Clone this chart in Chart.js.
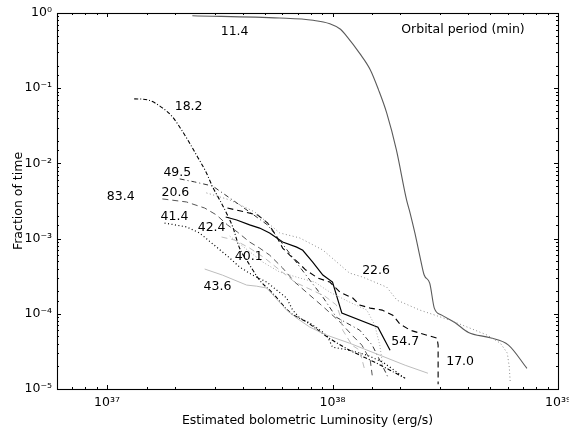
<!DOCTYPE html>
<html><head><meta charset="utf-8">
<script src="https://cdn.jsdelivr.net/npm/chart.js@4.4.0/dist/chart.umd.min.js"></script>
<style>html,body{margin:0;padding:0;background:#fff;}</style>
</head><body>
<canvas id="c" width="569" height="431" style="width:569px;height:431px;display:block"></canvas>
<script>
// ---- data (luminosity in erg/s, fraction of time) ----
const lum_11_4 = [2.39e37,5.83e37,8.2e37,9.73e37,1.085e38,1.15e38,1.32e38,1.47e38,1.60e38,1.74e38,1.92e38,2.13e38,2.21e38,2.32e38,2.46e38,2.55e38,2.70e38,2.83e38,3.05e38,3.50e38,4.01e38,5.0e38,6.03e38,7.28e38];
const frac_11_4 = [0.92,0.857,0.80,0.72,0.608,0.50,0.29,0.176,0.095,0.0466,0.0151,3.27e-3,2.17e-3,1.18e-3,5.19e-4,3.28e-4,2.54e-4,1.18e-4,9.6e-5,7.6e-5,5.65e-5,4.8e-5,3.83e-5,1.88e-5];

const lum_18_2 = [1.32e37,1.51e37,1.76e37,1.95e37,2.14e37,2.32e37,2.52e37,2.76e37,2.94e37,3.16e37,3.42e37,3.61e37,3.87e37,4.16e37,4.75e37,5.43e37,6.46e37,7.69e37,9.53e37,1.19e38,1.54e38,1.80e38,2.10e38];
const frac_18_2 = [0.0722,0.0701,0.0548,0.0416,0.0279,0.0188,0.0122,7.47e-3,4.86e-3,3.27e-3,2.06e-3,1.43e-3,7.48e-4,5.19e-4,2.81e-4,1.88e-4,1.05e-4,7.74e-5,4.89e-5,3.28e-5,2.27e-5,1.78e-5,1.39e-5];

const lum_49_5 = [2.10e37,2.44e37,2.94e37,3.50e37,4.29e37,5.15e37,5.83e37,7.16e37,9.06e37,1.04e38,1.32e38,1.50e38,1.62e38,1.76e38];
const frac_49_5 = [6.22e-3,5.68e-3,5.0e-3,3.47e-3,2.26e-3,1.52e-3,9.57e-4,4.19e-4,1.67e-4,9.0e-5,6.06e-5,3.83e-5,2.42e-5,1.44e-5];

const lum_22_6 = [2.76e37,3.50e37,4.52e37,5.83e37,7.16e37,9.06e37,1.19e38,1.36e38,1.74e38,1.93e38,2.44e38,3.32e38,4.07e38,4.85e38,5.55e38,5.96e38,6.08e38,6.14e38];
const frac_22_6 = [4.05e-3,3.27e-3,2.26e-3,1.19e-3,1.02e-3,7.05e-4,3.48e-4,3.08e-4,2.26e-4,1.52e-4,1.12e-4,8.22e-5,6.45e-5,5.21e-5,4.07e-5,3.0e-5,1.95e-5,1.23e-5];

const lum_20_6 = [1.76e37,2.25e37,2.71e37,3.06e37,3.42e37,3.79e37,4.29e37,4.75e37,5.26e37,6.01e37,6.80e37,7.93e37,9.24e37,1.08e38,1.22e38,1.35e38,1.47e38,1.50e38];
const frac_20_6 = [3.37e-3,3.07e-3,2.55e-3,2.06e-3,1.52e-3,1.22e-3,9.0e-4,7.48e-4,6.04e-4,4.06e-4,2.64e-4,1.77e-4,1.19e-4,7.76e-5,5.21e-5,3.83e-5,2.42e-5,1.52e-5];

const lum_41_4 = [1.80e37,2.25e37,2.57e37,3.06e37,3.50e37,3.87e37,4.42e37,5.11e37,5.65e37,6.26e37,6.66e37,7.16e37,7.93e37,9.06e37,9.53e37,1.00e38,1.19e38,1.42e38,1.67e38,1.93e38,2.05e38];
const frac_41_4 = [1.61e-3,1.43e-3,1.19e-3,7.72e-4,5.52e-4,4.19e-4,3.27e-4,2.64e-4,2.07e-4,1.62e-4,1.12e-4,8.77e-5,7.52e-5,5.70e-5,4.89e-5,3.60e-5,3.28e-5,2.82e-5,2.28e-5,1.68e-5,1.44e-5];

const lum_43_6 = [2.71e37,3.25e37,4.16e37,4.61e37,5.11e37,5.71e37,6.26e37,6.94e37,7.93e37,9.43e37,1.19e38,1.62e38,2.10e38,2.65e38];
const frac_43_6 = [3.94e-4,3.27e-4,2.41e-4,2.33e-4,2.20e-4,1.52e-4,1.12e-4,8.77e-5,6.65e-5,5.2e-5,4.07e-5,2.82e-5,2.07e-5,1.62e-5];

const lum_42_4 = [3.22e37,3.68e37,4.29e37,5.0e37,5.83e37,6.80e37,8.09e37,9.24e37,1.04e38,1.09e38,1.11e38,1.22e38,1.32e38,1.39e38];
const frac_42_4 = [1.05e-3,9.57e-4,7.48e-4,5.52e-4,3.82e-4,2.64e-4,2.07e-4,1.72e-4,1.31e-4,8.77e-5,6.06e-5,3.83e-5,3.28e-5,1.78e-5];

const lum_40_1 = [3.50e37,4.20e37,4.90e37,5.83e37,7.16e37,8.35e37,9.73e37,1.19e38,1.42e38,1.54e38,1.62e38,1.67e38];
const frac_40_1 = [1.08e-3,7.05e-4,4.88e-4,3.59e-4,2.99e-4,2.64e-4,1.94e-4,1.43e-4,1.12e-4,7.06e-5,3.83e-5,2.07e-5];

const lum_17_0 = [3.42e37,4.08e37,4.66e37,5.16e37,5.60e37,6.01e37,6.46e37,7.01e37,7.61e37,8.61e37,9.73e37,1.08e38,1.23e38,1.32e38,1.47e38,1.66e38,1.85e38,1.99e38,2.21e38,2.44e38,2.91e38,2.94e38,2.94e38];
const frac_17_0 = [2.55e-3,2.26e-3,2.06e-3,1.61e-3,1.12e-3,7.48e-4,6.04e-4,4.88e-4,3.82e-4,2.99e-4,2.64e-4,1.94e-4,1.62e-4,1.31e-4,1.19e-4,1.12e-4,9.6e-5,7.3e-5,6.06e-5,5.53e-5,4.74e-5,3.83e-5,1.16e-5];

const lum_54_7 = [3.36e37,3.76e37,4.29e37,4.75e37,5.26e37,6.01e37,6.94e37,7.38e37,8.17e37,9.06e37,1.0e38,1.10e38,1.59e38,1.80e38];
const frac_54_7 = [1.94e-3,1.77e-3,1.52e-3,1.38e-3,1.19e-3,9.0e-4,7.7e-4,7.0e-4,4.88e-4,3.27e-4,2.64e-4,1.02e-4,6.65e-5,3.28e-5];

// text labels placed in data coordinates
const labelText = ['11.4','18.2','49.5','20.6','83.4','41.4','42.4','40.1','43.6','22.6','54.7','17.0','Orbital period (min)'];
const labelLum  = [3.68e37,2.30e37,2.05e37,2.01e37,1.15e37,1.99e37,2.91e37,4.25e37,3.09e37,1.56e38,2.10e38,3.68e38,3.79e38];
const labelFrac = [0.56,0.0565,7.5e-3,4.05e-3,3.58e-3,1.94e-3,1.38e-3,5.7e-4,2.26e-4,3.7e-4,4.3e-5,2.28e-5,0.6];

const xMin = 6e36, xMax = 1e39, yMin = 1e-5, yMax = 1;

// ---- styling per series ----
const series = [
  {lum: lum_43_6, frac: frac_43_6, color:'#bdbdbd', dash:[], width:1},
  {lum: lum_42_4, frac: frac_42_4, color:'#bdbdbd', dash:[6,4], width:1},
  {lum: lum_40_1, frac: frac_40_1, color:'#aaaaaa', dash:[1,2], width:1},
  {lum: lum_22_6, frac: frac_22_6, color:'#8a8a8a', dash:[1,2.5], width:1},
  {lum: lum_20_6, frac: frac_20_6, color:'#555555', dash:[6,4], width:1},
  {lum: lum_49_5, frac: frac_49_5, color:'#333333', dash:[5,3,1,3], width:1},
  {lum: lum_11_4, frac: frac_11_4, color:'#5a5a5a', dash:[], width:1.1, smooth:true},
  {lum: lum_41_4, frac: frac_41_4, color:'#000000', dash:[1,2.5], width:1.2},
  {lum: lum_18_2, frac: frac_18_2, color:'#000000', dash:[4,2,1,2], width:1.1, smooth:true},
  {lum: lum_17_0, frac: frac_17_0, color:'#000000', dash:[6,4], width:1.1},
  {lum: lum_54_7, frac: frac_54_7, color:'#000000', dash:[], width:1.2},
];

const FONT = 'DejaVu Sans';
const SUP = {'-':'\u207B','0':'\u2070','1':'\u00B9','2':'\u00B2','3':'\u00B3','4':'\u2074','5':'\u2075','6':'\u2076','7':'\u2077','8':'\u2078','9':'\u2079'};
function isDecade(v){ const e = Math.log10(v); return Math.abs(e - Math.round(e)) < 1e-6; }
function decadeLabel(v){
  if (!isDecade(v)) return '';
  const e = String(Math.round(Math.log10(v)));
  return '10' + e.split('').map(c => SUP[c]).join('');
}

const framePlugin = {
  id: 'frame',
  afterDraw(chart){
    const {ctx, chartArea: a, scales: {x, y}} = chart;
    ctx.save();
    ctx.strokeStyle = '#000';
    ctx.lineWidth = 1;
    ctx.beginPath();
    x.ticks.forEach(t => {
      const px = Math.round(x.getPixelForValue(t.value)) + 0.5;
      if (px < a.left + 1 || px > a.right - 1) return;
      const len = isDecade(t.value) ? 4 : 2;
      ctx.moveTo(px, a.bottom); ctx.lineTo(px, a.bottom - len);
      ctx.moveTo(px, a.top); ctx.lineTo(px, a.top + len);
    });
    y.ticks.forEach(t => {
      const py = Math.round(y.getPixelForValue(t.value)) + 0.5;
      if (py < a.top + 1 || py > a.bottom - 1) return;
      const len = isDecade(t.value) ? 4 : 2;
      ctx.moveTo(a.left, py); ctx.lineTo(a.left + len, py);
      ctx.moveTo(a.right, py); ctx.lineTo(a.right - len, py);
    });
    ctx.stroke();
    ctx.lineWidth = 1.1;
    ctx.strokeRect(Math.round(a.left) + 0.5, Math.round(a.top) + 0.5, Math.round(a.right - a.left), Math.round(a.bottom - a.top));
    ctx.restore();
  },
  afterDatasetsDraw(chart){
    const {ctx, scales: {x, y}} = chart;
    ctx.save();
    ctx.fillStyle = '#000';
    ctx.font = '12.5px "' + FONT + '"';
    ctx.textAlign = 'center';
    ctx.textBaseline = 'middle';
    labelText.forEach((txt, i) => {
      ctx.fillText(txt, x.getPixelForValue(labelLum[i]), y.getPixelForValue(labelFrac[i]));
    });
    ctx.restore();
  }
};

const datasets = series.map(s => ({
  data: s.lum.map((v, i) => ({x: v, y: s.frac[i]})),
  showLine: true,
  borderColor: s.color,
  borderWidth: s.width,
  borderDash: s.dash,
  pointRadius: 0,
  fill: false,
  tension: 0,
  cubicInterpolationMode: s.smooth ? 'monotone' : 'default'
}));

new Chart(document.getElementById('c'), {
  type: 'scatter',
  data: { datasets },
  plugins: [framePlugin],
  options: {
    responsive: false,
    animation: false,
    devicePixelRatio: 1,
    layout: { padding: {top: 13, right: 11, left: 0, bottom: 0} },
    plugins: { legend: {display: false}, tooltip: {enabled: false} },
    scales: {
      x: {
        type: 'logarithmic', min: xMin, max: xMax, position: 'bottom',
        grid: {display: false, drawTicks: false},
        border: {display: false},
        ticks: {autoSkip: false, maxRotation: 0, minRotation: 0, padding: 6, color: '#000',
                font: {family: FONT, size: 12.5}, callback: v => decadeLabel(v)},
        title: {display: true, text: 'Estimated bolometric Luminosity (erg/s)', color: '#000',
                font: {family: FONT, size: 12.5}, padding: {top: 0, bottom: 2.5}},
        afterFit(s){ s.height = 42; s.paddingLeft = 0; s.paddingRight = 0; }
      },
      y: {
        type: 'logarithmic', min: yMin, max: yMax, position: 'left',
        grid: {display: false, drawTicks: false},
        border: {display: false},
        ticks: {autoSkip: false, padding: 5, color: '#000',
                font: {family: FONT, size: 12.5}, callback: v => decadeLabel(v)},
        title: {display: true, text: 'Fraction of time', color: '#000',
                font: {family: FONT, size: 12.5}, padding: {top: 11.5, bottom: 0}},
        afterFit(s){ s.width = 57; s.paddingTop = 0; s.paddingBottom = 0; }
      }
    }
  }
});
</script>
</body></html>
